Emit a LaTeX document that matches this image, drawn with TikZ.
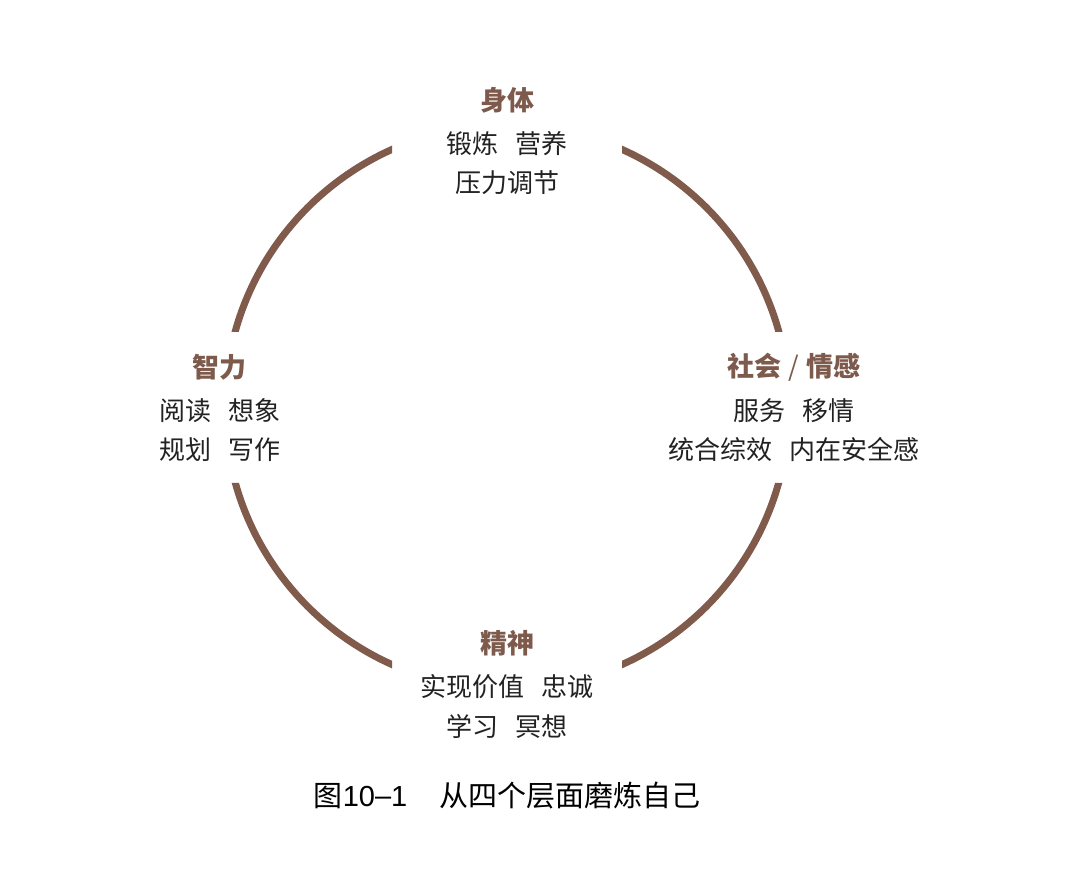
\documentclass[tikz,border=0pt]{standalone}
\usepackage{fontspec}
\newfontfamily\cjk{Noto Sans CJK SC}
\newfontfamily\latn{Liberation Sans}
\definecolor{arcbrown}{HTML}{805A4B}
\definecolor{headbrown}{HTML}{7D5A4C}
\definecolor{bodytext}{HTML}{222222}
\begin{document}
\begin{tikzpicture}[x=1pt,y=-1pt,
  head/.style={font=\cjk\bfseries\fontsize{27}{30}\selectfont, text=headbrown, inner sep=0pt, anchor=center},
  body/.style={font=\cjk\fontsize{26}{39}\selectfont, text=bodytext, inner sep=0pt, anchor=center},
  ring/.style={draw=arcbrown, line width=7pt}]
\useasboundingbox[fill=white] (0,0) rectangle (1080,890);
\begin{scope}[even odd rule]
  \clip (0,0) rectangle (1080,890)
    (392,0) rectangle (622,300)
    (392,520) rectangle (622,890)
    (0,332) rectangle (320,483)
    (700,332) rectangle (1080,483);
  \draw[ring] (507,407) circle[radius=282pt];
\end{scope}
\node[head] (ht) at (507,100) {身体};
\node[body] (t1) at (507,144) {锻炼\hspace{0.65em}营养};
\node[body] (t2) at (507,183) {压力调节};
\node[head] (hl) at (219,367) {智力};
\node[body] (l1) at (220,411) {阅读\hspace{0.65em}想象};
\node[body] (l2) at (220,450) {规划\hspace{0.65em}写作};
\node[head] (hr) at (794,367) {社会\hspace{0.25em}{\mdseries /}\hspace{0.25em}情感};
\node[body] (r1) at (794,411) {服务\hspace{0.65em}移情};
\node[body] (r2) at (794,450) {统合综效\hspace{0.65em}内在安全感};
\node[head] (hb) at (507,643) {精神};
\node[body] (b1) at (507,687) {实现价值\hspace{0.65em}忠诚};
\node[body] (b2) at (507,726) {学习\hspace{0.65em}冥想};
\node[font=\cjk\fontsize{29}{32}\selectfont, text=black, inner sep=0pt] (cap) at (507,796) {图{\latn 10\raisebox{0.1ex}{–}1}\hspace{1.1em}从四个层面磨炼自己};
\end{tikzpicture}
\end{document}
